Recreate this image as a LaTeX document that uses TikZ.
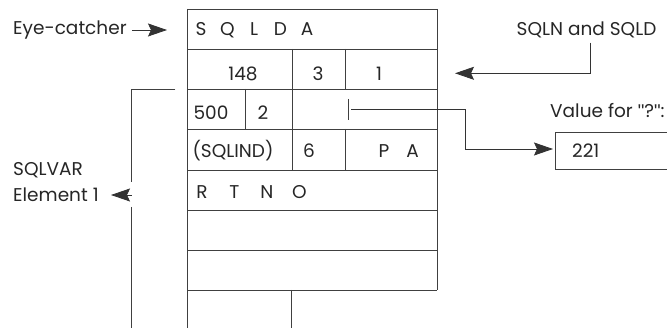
\documentclass[tikz,border=0pt]{standalone}
\usepackage{fontspec}
\setmainfont{Poppins}
\newfontfamily\quotefont{Liberation Sans}
\usetikzlibrary{arrows.meta}
\begin{document}
\begin{tikzpicture}[x=1pt,y=-1pt,
  grid/.style={line width=0.8pt,black!75},
  lbl/.style={inner sep=0pt,anchor=base,text=black!85,font=\fontsize{18.5}{22}\selectfont},
  arr/.style={line width=0.8pt,black!80,-{Stealth[length=19pt,width=13pt,inset=3pt]}}]
  \useasboundingbox (0,0) rectangle (667,328);
  % the SQLDA block
  \foreach \y in {9,49,89,129,170,210,250,290}
    \draw[grid] (187,\y) -- (437,\y);
  \draw[grid] (187,9) -- (187,328);
  \draw[grid] (437,9) -- (437,290);
  \draw[grid] (292.5,49) -- (292.5,170);
  \draw[grid] (345.7,49) -- (345.7,89);
  \draw[grid] (345.7,129) -- (345.7,170);
  \draw[grid] (245,89) -- (245,129);
  \draw[grid] (291.3,290) -- (291.3,328);
  % the letters, one node per letter
  \foreach \c [count=\i from 0] in {S,Q,L,D,A}
    \node[lbl] (sq\i) at ({201+26.5*\i},36) {\c};
  \foreach \c [count=\i from 0] in {R,T,N,O}
    \node[lbl] (rt\i) at ({202+32.5*\i},199) {\c};
  % cell contents
  \node[lbl] (n148) at (243,80.5) {148};
  \node[lbl] (n3) at (318,80.5) {3};
  \node[lbl] (n1) at (379,80.5) {1};
  \node[lbl] (n500) at (211,120) {500};
  \node[lbl] (n2) at (263,120) {2};
  \node[lbl] (nind) at (233,158) {(SQLIND)};
  \node[lbl] (n6) at (309,158) {6};
  \node[lbl] (np) at (384,158) {P};
  \node[lbl] (na) at (412.5,158) {A};
  % eye-catcher
  \node[lbl,anchor=base west] (eyec) at (13,35) {Eye-catcher};
  \coordinate (eyetip) at (167,30);
  \draw[arr,shorten <=5pt] (eyec.east |- eyetip) -- (eyetip);
  % SQLN and SQLD
  \node[lbl] (sqlnd) at (586.5,36) {SQLN and SQLD};
  \coordinate (ntip) at (455,73.3);
  \draw[arr,shorten <=4pt] ([xshift=4pt]sqlnd.south) |- (ntip);
  % the host variable
  \node[lbl,anchor=base west] (vfor) at (550,118) {Value for {\quotefont"}?{\quotefont"}:};
  \node[lbl,anchor=base west] (val) at (572,158) {221};
  \draw[grid] (667,132.7) -| (555,169) -- (667,169);
  \coordinate (vtip) at (553,149);
  \coordinate (ptr) at (348,109);
  \draw[grid] (348,99) -- (348,120);
  \draw[arr,shorten <=3pt] (ptr) -- (465,109) |- (vtip);
  % SQLVAR element bracket
  \node[lbl,anchor=base west] (svar) at (13,176) {SQLVAR};
  \node[lbl,anchor=base west] (elem) at (13,201.7) {Element 1};
  \coordinate (btop) at (175.3,89);
  \coordinate (bmid) at (131.7,195);
  \draw[grid] (btop) -| (131.7,182);
  \draw[grid] (131.7,207) -- (131.7,328);
  \draw[arr] (bmid) -- (111,195);
\end{tikzpicture}
\end{document}
